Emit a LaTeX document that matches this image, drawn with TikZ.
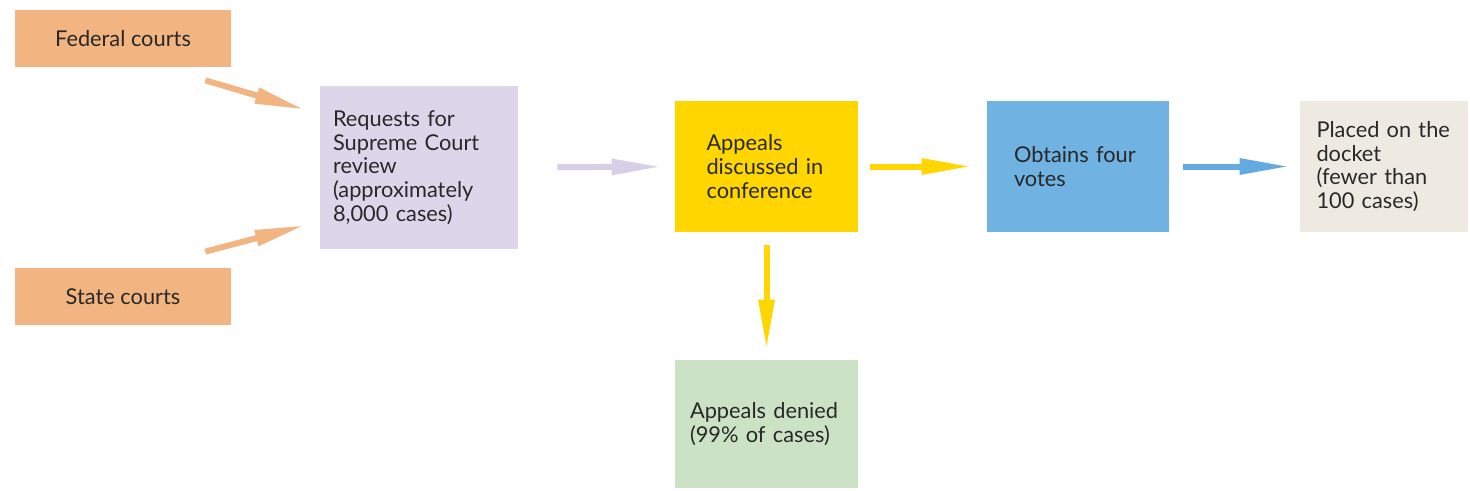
\documentclass[tikz,border=0pt]{standalone}
\usepackage{fontspec}
\setmainfont{Lato}
\usetikzlibrary{arrows.meta}
\definecolor{courtorange}{RGB}{242,180,128}
\definecolor{reqlavender}{RGB}{221,214,235}
\definecolor{arrlavender}{RGB}{214,208,230}
\definecolor{confyellow}{RGB}{255,214,0}
\definecolor{voteblue}{RGB}{112,178,226}
\definecolor{arrblue}{RGB}{100,170,224}
\definecolor{docketbeige}{RGB}{238,234,226}
\definecolor{deniedgreen}{RGB}{204,226,196}
\definecolor{textgray}{RGB}{40,40,40}
\begin{document}
\begin{tikzpicture}[x=0.02cm,y=-0.02cm,
    box/.style={fill=#1,inner sep=0pt,align=left,text=textgray,
      font=\fontsize{12.4}{13.5}\selectfont},
    flow/.style={draw=#1,line width=0.12cm,
      -{Triangle[length=1cm,width=0.3cm]}}]
  \useasboundingbox (0,0) rectangle (1470,490);
  % sources
  \node[box=courtorange,minimum width=4.32cm,minimum height=1.14cm]
    (fed) at (123,38.5) {Federal courts};
  \node[box=courtorange,minimum width=4.32cm,minimum height=1.14cm]
    (state) at (123,296.5) {State courts};
  % main line
  \node[box=reqlavender,minimum width=3.96cm,minimum height=3.26cm,
    text width=3.44cm] (req) at (419,167.5)
    {Requests for\\Supreme Court\\review\\(approximately\\8,000 cases)};
  \node[box=confyellow,minimum width=3.66cm,minimum height=2.62cm,
    text width=2.4cm] (conf) at (766.5,166.5)
    {Appeals\\discussed in\\conference};
  \node[box=voteblue,minimum width=3.64cm,minimum height=2.62cm,
    text width=2.56cm] (votes) at (1078,166.5) {Obtains four\\votes};
  \node[box=docketbeige,minimum width=3.36cm,minimum height=2.62cm,
    text width=2.7cm] (docket) at (1384,166.5)
    {Placed on the\\docket\\(fewer than\\100 cases)};
  \node[box=deniedgreen,minimum width=3.66cm,minimum height=2.56cm,
    text width=3.06cm] (denied) at (766.5,424)
    {Appeals denied\\(99\% of cases)};
  % arrows
  \draw[flow=courtorange] ([shift={(-26,13)}]fed.south east)
    -- ([shift={(-15,24)}]req.north west);
  \draw[flow=courtorange] ([shift={(-26,-16)}]state.north east)
    -- ([shift={(-15,-24)}]req.south west);
  \draw[flow=arrlavender,shorten <=0.78cm,shorten >=0.26cm] (req) -- (conf);
  \draw[flow=confyellow,shorten <=0.24cm,shorten >=0.3cm] (conf) -- (votes);
  \draw[flow=arrblue,shorten <=0.28cm,shorten >=0.2cm] (votes) -- (docket);
  \draw[flow=confyellow,shorten <=0.26cm,shorten >=0.2cm] (conf) -- (denied);
\end{tikzpicture}
\end{document}
